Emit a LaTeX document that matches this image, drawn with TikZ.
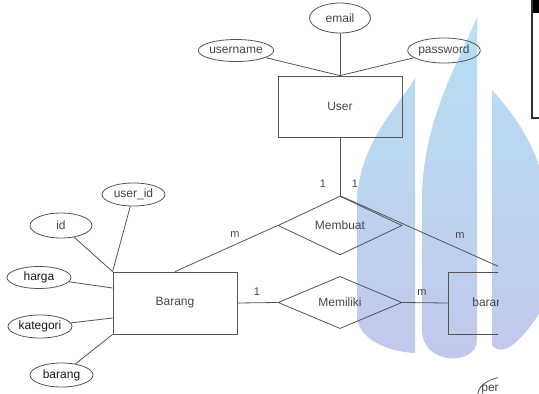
\documentclass[tikz,border=0pt]{standalone}
\usepackage{fontspec}
\setmainfont{Liberation Sans}
\usetikzlibrary{shapes.geometric}
\definecolor{linec}{RGB}{85,85,85}
\definecolor{textc}{RGB}{70,70,70}
\definecolor{textd}{RGB}{25,25,25}
\definecolor{wmtop}{RGB}{182,224,243}
\definecolor{wmbot}{RGB}{194,199,236}
\tikzset{
  ent/.style={draw=linec, rectangle, minimum width=124pt, minimum height=62pt, inner sep=0pt, text=textc, font=\fontsize{12}{14}\selectfont},
  attr/.style={draw=linec, ellipse, inner sep=0pt, text=textc, font=\fontsize{12}{14}\selectfont},
  rel/.style={draw=linec, diamond, minimum width=124pt, minimum height=51pt, inner sep=0pt, text=textc, font=\fontsize{12}{14}\selectfont},
  card/.style={text=textc, inner sep=0pt, font=\fontsize{11}{13}\selectfont},
  conn/.style={draw=linec, line width=0.8pt}
}
\begin{document}
\begin{tikzpicture}[x=1pt, y=-1pt, line width=0.8pt]
\useasboundingbox (0,0) rectangle (539,394);
\fill[white] (0,0) rectangle (539,394);
% watermark
\shade[top color=wmtop, bottom color=wmbot]
  (415,78) -- (415,353) .. controls (390,352) and (357,340) .. (357,315) -- (357,200) .. controls (360,140) and (400,105) .. (415,78) -- cycle
  (477,17) -- (477,340) .. controls (477,366) and (422,366) .. (422,330) -- (422,200) .. controls (422,120) and (460,60) .. (477,17) -- cycle
  (492,90) .. controls (515,115) and (540,150) .. (548,200) -- (548,300) .. controls (530,330) and (505,362) .. (492,345) -- cycle;
% top-right box
\fill[black] (531,0) rectangle (540,13);
\draw[line width=1.3pt, draw={rgb,255:red,50;green,50;blue,50}] (532,-2) -- (532,118) -- (541,118);

% entities
\node[ent, minimum height=61pt] (User) at (340,106.5) {User};
\node[ent] (Barang) at (175,303) {Barang};
% relations
\node[rel] (Membuat) at (340,225.5) {Membuat};
\node[rel] (Memiliki) at (340,302.5) {Memiliki};
% user attributes
\node[attr, minimum width=61pt, minimum height=30pt] (email) at (340,18) {email};
\node[attr, minimum width=62pt, minimum height=22pt] (username) at (236,50.5) {username};
\node[attr, minimum width=64pt, minimum height=25pt] (password) at (444,50.5) {password};
% barang attributes
\node[attr, minimum width=63pt, minimum height=23pt] (userid) at (133.5,194.5) {user\_id};
\node[attr, minimum width=62pt, minimum height=25pt] (id) at (61,225.5) {id};
\node[attr, minimum width=64pt, minimum height=22pt, text=textd] (harga) at (39,277.5) {harga};
\node[attr, minimum width=64pt, minimum height=23pt, text=textd] (kategori) at (40,326.5) {kategori};
\node[attr, minimum width=63pt, minimum height=24pt, text=textd] (barangattr) at (61.5,375) {barang};

% clipped right part
\begin{scope}
  \clip (0,0) rectangle (498,394);
  \node[ent] (barang2) at (510,303) {};
  \node[anchor=west, inner sep=0pt, text=textc, font=\fontsize{12}{14}\selectfont] (barang2label) at (472,303) {barang};
  \node[attr, minimum width=68pt, minimum height=36pt] (per) at (512,394) {};
  \node[anchor=base west, inner sep=0pt, text=textc, font=\fontsize{12}{14}\selectfont] (pertext) at (481,391) {per};
  \draw[conn] (Membuat.north) -- (barang2.north);
\end{scope}

% connectors
\draw[conn] (username) -- (User.north);
\draw[conn] (email) -- (User.north);
\draw[conn] (password) -- (User.north);
\draw[conn] (User.south) -- (Membuat.north);
\draw[conn] (Membuat.west) -- (Barang.north);
\draw[conn] (Barang.east) -- (Memiliki.west);
\draw[conn] (Memiliki.east) -- (barang2.west);
\draw[conn] (id) -- (Barang.north west);
\draw[conn] (userid) -- (Barang.north west);
\draw[conn] (harga) -- ([yshift=15pt]Barang.west);
\draw[conn] (kategori) -- ([yshift=-15pt]Barang.west);
\draw[conn] (barangattr) -- (Barang.south west);

% cardinalities
\node[card] (c1) at (323,184) {1};
\node[card] (c2) at (355,184) {1};
\node[card] (c3) at (235,235) {m};
\node[card] (c4) at (257,292) {1};
\node[card] (c5) at (460,236) {m};
\node[card] (c6) at (422,293) {m};
\end{tikzpicture}
\end{document}
